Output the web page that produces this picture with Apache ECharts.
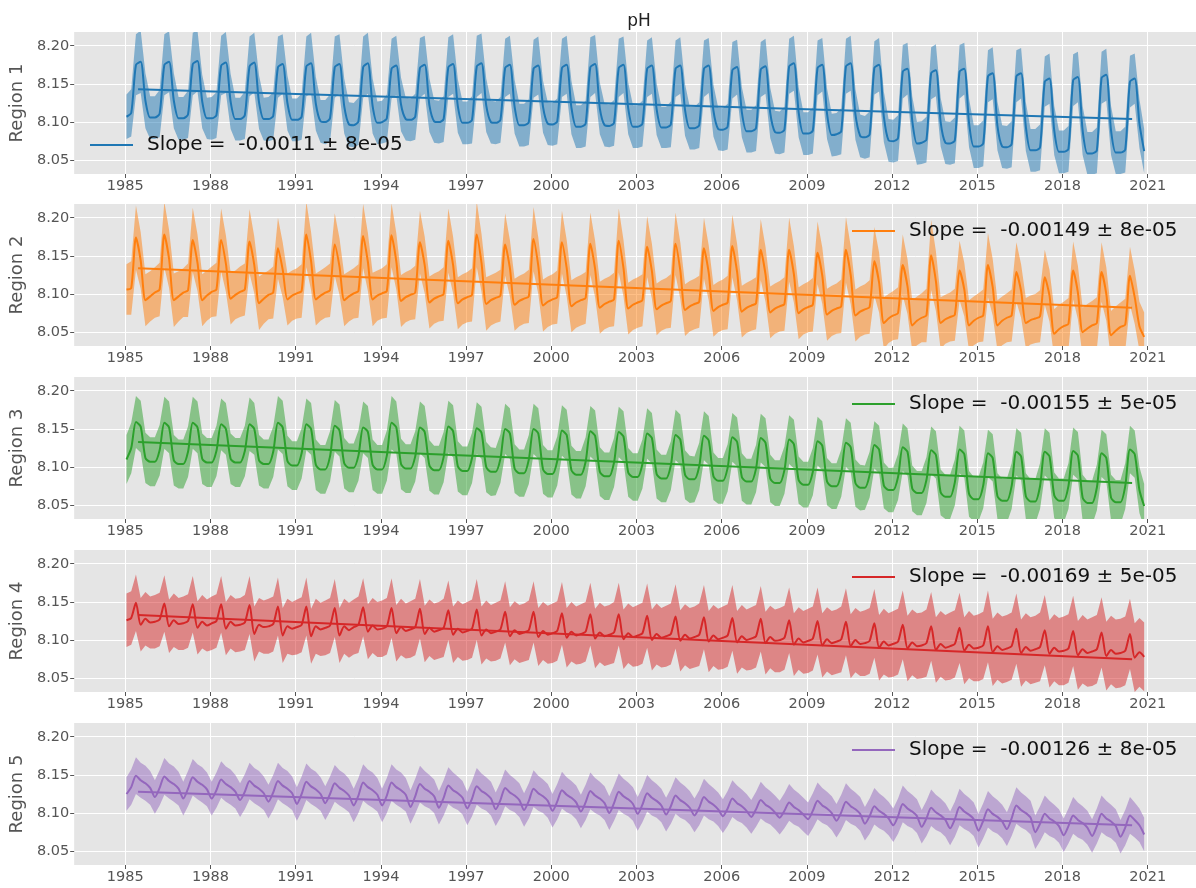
<!DOCTYPE html>
<html>
<head>
<meta charset="utf-8">
<title>pH</title>
<script src="https://cdn.jsdelivr.net/npm/echarts@6/dist/echarts.min.js"></script>
<style>
  html, body { margin: 0; padding: 0; background: #fff; }
  #chart { width: 1196px; height: 888px; }
</style>
</head>
<body>
<div id="chart"></div>
<script>
// sampling: every second month of each year
const years = [1985, 1986, 1987, 1988, 1989, 1990, 1991, 1992, 1993, 1994, 1995, 1996,
  1997, 1998, 1999, 2000, 2001, 2002, 2003, 2004, 2005, 2006, 2007, 2008,
  2009, 2010, 2011, 2012, 2013, 2014, 2015, 2016, 2017, 2018, 2019, 2020];
const sampleMonths = [0, 2, 4, 6, 8, 10];
const tickYears = [1985, 1988, 1991, 1994, 1997, 2000, 2003, 2006, 2009, 2012, 2015, 2018, 2021];
const yTicks = [8.05, 8.10, 8.15, 8.20];
const regionNames = ["Region 1", "Region 2", "Region 3", "Region 4", "Region 5"];
const slopeLabels = [
  "Slope =  -0.0011 ± 8e-05",
  "Slope =  -0.00149 ± 8e-05",
  "Slope =  -0.00155 ± 5e-05",
  "Slope =  -0.00169 ± 5e-05",
  "Slope =  -0.00126 ± 8e-05",
];
// linear fit end points
const trendX = [1985.45, 2020.45];
const trendStart = [8.143, 8.134, 8.133, 8.133, 8.128];
const trendEnd = [8.104, 8.082, 8.079, 8.075, 8.084];

// monthly-mean pH (Jan, Mar, May, Jul, Sep, Nov per row)
const r1Mean = [
  8.107,8.112,8.175,8.179,8.128,8.106, 8.106,8.111,8.175,8.179,8.128,8.105,
  8.105,8.110,8.176,8.180,8.127,8.105, 8.105,8.109,8.174,8.178,8.127,8.104,
  8.104,8.109,8.173,8.178,8.126,8.104, 8.104,8.108,8.172,8.176,8.125,8.103,
  8.103,8.107,8.173,8.177,8.124,8.101, 8.100,8.105,8.172,8.176,8.121,8.097,
  8.096,8.101,8.172,8.177,8.121,8.099, 8.100,8.105,8.170,8.174,8.123,8.104,
  8.103,8.107,8.171,8.175,8.122,8.101, 8.100,8.104,8.172,8.176,8.121,8.099,
  8.099,8.103,8.173,8.177,8.122,8.100, 8.099,8.103,8.171,8.175,8.120,8.096,
  8.096,8.100,8.170,8.174,8.120,8.098, 8.097,8.101,8.171,8.175,8.119,8.094,
  8.094,8.098,8.172,8.176,8.118,8.096, 8.095,8.099,8.171,8.175,8.118,8.094,
  8.094,8.098,8.170,8.174,8.117,8.093, 8.093,8.097,8.170,8.174,8.116,8.092,
  8.092,8.096,8.170,8.174,8.115,8.091, 8.090,8.094,8.168,8.172,8.113,8.088,
  8.088,8.092,8.169,8.173,8.112,8.087, 8.086,8.090,8.173,8.177,8.113,8.085,
  8.085,8.089,8.171,8.175,8.111,8.083, 8.084,8.088,8.173,8.177,8.110,8.082,
  8.080,8.084,8.171,8.175,8.107,8.076, 8.075,8.079,8.166,8.170,8.102,8.072,
  8.073,8.077,8.164,8.168,8.100,8.073, 8.072,8.076,8.166,8.170,8.099,8.068,
  8.068,8.072,8.160,8.164,8.095,8.068, 8.067,8.071,8.160,8.164,8.094,8.063,
  8.063,8.067,8.153,8.157,8.089,8.061, 8.061,8.065,8.155,8.159,8.089,8.059,
  8.059,8.063,8.158,8.162,8.089,8.060, 8.060,8.064,8.153,8.157,8.098,8.062,
];
const r1Sd = [
  0.029,0.031,0.040,0.041,0.036,0.028, 0.028,0.031,0.040,0.040,0.036,0.028,
  0.028,0.031,0.041,0.040,0.035,0.027, 0.028,0.030,0.039,0.040,0.036,0.028,
  0.028,0.031,0.039,0.039,0.035,0.028, 0.029,0.031,0.040,0.039,0.036,0.028,
  0.028,0.030,0.039,0.040,0.035,0.028, 0.029,0.031,0.040,0.039,0.036,0.029,
  0.029,0.031,0.040,0.040,0.036,0.028, 0.028,0.031,0.039,0.039,0.035,0.028,
  0.028,0.030,0.039,0.038,0.035,0.028, 0.028,0.030,0.039,0.039,0.035,0.028,
  0.028,0.031,0.040,0.039,0.035,0.028, 0.028,0.030,0.038,0.038,0.035,0.028,
  0.028,0.030,0.038,0.038,0.034,0.028, 0.028,0.030,0.038,0.038,0.035,0.028,
  0.028,0.030,0.039,0.038,0.034,0.028, 0.028,0.030,0.038,0.037,0.034,0.028,
  0.028,0.030,0.037,0.037,0.034,0.027, 0.027,0.030,0.037,0.037,0.034,0.028,
  0.028,0.030,0.037,0.036,0.034,0.028, 0.028,0.030,0.037,0.036,0.033,0.028,
  0.028,0.030,0.036,0.036,0.033,0.028, 0.028,0.030,0.036,0.036,0.033,0.028,
  0.028,0.030,0.036,0.035,0.033,0.028, 0.028,0.030,0.036,0.036,0.033,0.028,
  0.028,0.030,0.035,0.035,0.033,0.028, 0.028,0.030,0.035,0.034,0.032,0.028,
  0.028,0.030,0.034,0.034,0.032,0.028, 0.028,0.030,0.035,0.034,0.032,0.028,
  0.028,0.030,0.034,0.034,0.032,0.028, 0.028,0.030,0.034,0.033,0.032,0.028,
  0.028,0.030,0.033,0.033,0.032,0.028, 0.028,0.030,0.034,0.033,0.032,0.028,
  0.028,0.030,0.034,0.034,0.032,0.028, 0.028,0.030,0.034,0.033,0.032,0.029,
];
const r2Mean = [
  8.106,8.108,8.174,8.144,8.092,8.097, 8.102,8.106,8.178,8.146,8.092,8.097,
  8.102,8.105,8.171,8.141,8.092,8.098, 8.103,8.106,8.171,8.140,8.094,8.099,
  8.103,8.106,8.169,8.138,8.088,8.094, 8.099,8.102,8.160,8.132,8.093,8.098,
  8.101,8.104,8.178,8.143,8.093,8.098, 8.102,8.105,8.165,8.136,8.092,8.097,
  8.101,8.104,8.176,8.142,8.093,8.098, 8.101,8.104,8.177,8.143,8.091,8.096,
  8.099,8.102,8.168,8.138,8.089,8.094, 8.097,8.100,8.170,8.138,8.088,8.093,
  8.096,8.099,8.178,8.141,8.087,8.092, 8.095,8.098,8.165,8.134,8.086,8.091,
  8.094,8.097,8.172,8.137,8.085,8.090, 8.093,8.096,8.168,8.134,8.084,8.089,
  8.092,8.095,8.166,8.133,8.082,8.087, 8.090,8.093,8.170,8.134,8.081,8.086,
  8.089,8.092,8.162,8.130,8.080,8.085, 8.088,8.091,8.166,8.131,8.079,8.084,
  8.087,8.090,8.160,8.128,8.078,8.083, 8.086,8.089,8.163,8.129,8.077,8.082,
  8.085,8.088,8.158,8.126,8.076,8.081, 8.084,8.087,8.158,8.126,8.075,8.080,
  8.083,8.086,8.154,8.124,8.073,8.078, 8.081,8.084,8.158,8.125,8.072,8.077,
  8.080,8.083,8.143,8.115,8.062,8.068, 8.072,8.075,8.138,8.110,8.059,8.065,
  8.069,8.072,8.151,8.117,8.062,8.067, 8.070,8.073,8.131,8.106,8.059,8.065,
  8.069,8.072,8.138,8.109,8.059,8.065, 8.069,8.072,8.129,8.104,8.062,8.066,
  8.068,8.071,8.122,8.098,8.048,8.054, 8.058,8.061,8.131,8.102,8.050,8.055,
  8.059,8.062,8.129,8.100,8.046,8.052, 8.057,8.060,8.124,8.096,8.058,8.044,
];
const r2Sd = [
  0.033,0.035,0.042,0.037,0.034,0.033, 0.033,0.035,0.043,0.038,0.035,0.033,
  0.032,0.035,0.042,0.037,0.034,0.033, 0.033,0.035,0.041,0.037,0.034,0.032,
  0.033,0.034,0.042,0.037,0.035,0.033, 0.032,0.034,0.040,0.036,0.034,0.033,
  0.033,0.035,0.043,0.038,0.034,0.033, 0.033,0.035,0.041,0.037,0.034,0.033,
  0.033,0.035,0.042,0.038,0.035,0.033, 0.033,0.035,0.042,0.037,0.034,0.033,
  0.033,0.035,0.041,0.037,0.034,0.033, 0.033,0.035,0.042,0.037,0.034,0.033,
  0.033,0.035,0.043,0.038,0.035,0.033, 0.033,0.034,0.041,0.037,0.034,0.033,
  0.033,0.035,0.042,0.037,0.034,0.033, 0.033,0.035,0.041,0.037,0.034,0.033,
  0.033,0.034,0.041,0.037,0.034,0.033, 0.033,0.035,0.042,0.037,0.034,0.033,
  0.033,0.034,0.040,0.036,0.034,0.033, 0.033,0.035,0.041,0.037,0.034,0.033,
  0.033,0.034,0.040,0.036,0.034,0.033, 0.033,0.035,0.041,0.037,0.034,0.033,
  0.033,0.034,0.040,0.036,0.034,0.033, 0.033,0.035,0.042,0.037,0.034,0.033,
  0.033,0.035,0.041,0.037,0.034,0.033, 0.033,0.035,0.043,0.038,0.034,0.033,
  0.033,0.035,0.045,0.039,0.034,0.032, 0.032,0.034,0.040,0.036,0.033,0.032,
  0.032,0.035,0.046,0.039,0.034,0.032, 0.032,0.034,0.039,0.035,0.033,0.032,
  0.032,0.034,0.042,0.037,0.033,0.032, 0.032,0.034,0.039,0.035,0.033,0.032,
  0.032,0.034,0.036,0.034,0.032,0.032, 0.032,0.034,0.038,0.035,0.032,0.032,
  0.032,0.034,0.039,0.035,0.032,0.032, 0.032,0.034,0.038,0.035,0.032,0.032,
];
const r3Mean = [
  8.110,8.125,8.159,8.153,8.112,8.107, 8.107,8.122,8.158,8.152,8.109,8.104,
  8.104,8.120,8.158,8.152,8.111,8.106, 8.106,8.121,8.156,8.150,8.111,8.106,
  8.106,8.121,8.156,8.150,8.109,8.104, 8.104,8.120,8.158,8.152,8.108,8.102,
  8.102,8.118,8.156,8.150,8.103,8.097, 8.097,8.114,8.154,8.148,8.105,8.099,
  8.099,8.115,8.152,8.146,8.103,8.097, 8.097,8.115,8.158,8.152,8.104,8.098,
  8.098,8.114,8.152,8.146,8.102,8.096, 8.096,8.113,8.153,8.147,8.101,8.095,
  8.095,8.112,8.151,8.145,8.100,8.094, 8.094,8.111,8.150,8.144,8.098,8.092,
  8.092,8.110,8.150,8.144,8.097,8.091, 8.091,8.108,8.148,8.142,8.096,8.090,
  8.090,8.107,8.147,8.141,8.094,8.088, 8.088,8.106,8.146,8.140,8.093,8.087,
  8.087,8.104,8.144,8.138,8.091,8.085, 8.085,8.102,8.142,8.136,8.090,8.084,
  8.084,8.101,8.141,8.135,8.088,8.082, 8.082,8.099,8.139,8.133,8.087,8.081,
  8.081,8.098,8.138,8.132,8.085,8.079, 8.079,8.096,8.136,8.130,8.083,8.077,
  8.077,8.094,8.134,8.128,8.081,8.075, 8.075,8.092,8.132,8.126,8.079,8.073,
  8.073,8.090,8.129,8.123,8.076,8.070, 8.070,8.087,8.126,8.120,8.072,8.066,
  8.066,8.083,8.122,8.116,8.067,8.061, 8.061,8.080,8.123,8.117,8.065,8.058,
  8.058,8.076,8.118,8.112,8.062,8.056, 8.056,8.075,8.120,8.114,8.062,8.055,
  8.055,8.075,8.120,8.114,8.063,8.056, 8.056,8.075,8.121,8.115,8.060,8.053,
  8.053,8.073,8.118,8.112,8.060,8.054, 8.054,8.075,8.123,8.117,8.070,8.049,
];
const r3Sd = [
  0.032,0.033,0.034,0.034,0.033,0.032, 0.032,0.033,0.034,0.034,0.033,0.032,
  0.032,0.033,0.034,0.034,0.033,0.032, 0.032,0.033,0.034,0.034,0.033,0.032,
  0.032,0.033,0.035,0.034,0.033,0.032, 0.032,0.033,0.035,0.035,0.033,0.032,
  0.032,0.033,0.034,0.034,0.033,0.032, 0.032,0.033,0.034,0.034,0.033,0.032,
  0.032,0.033,0.034,0.034,0.033,0.032, 0.032,0.033,0.035,0.034,0.033,0.032,
  0.032,0.033,0.034,0.034,0.033,0.032, 0.032,0.033,0.034,0.034,0.033,0.032,
  0.032,0.033,0.034,0.034,0.033,0.032, 0.031,0.032,0.033,0.033,0.032,0.031,
  0.031,0.032,0.033,0.033,0.032,0.031, 0.031,0.032,0.033,0.033,0.032,0.031,
  0.031,0.032,0.033,0.033,0.032,0.031, 0.031,0.032,0.033,0.033,0.032,0.031,
  0.031,0.032,0.033,0.033,0.032,0.031, 0.031,0.032,0.033,0.033,0.032,0.031,
  0.030,0.031,0.032,0.032,0.031,0.030, 0.030,0.031,0.032,0.032,0.031,0.030,
  0.030,0.031,0.032,0.032,0.031,0.030, 0.030,0.031,0.032,0.032,0.031,0.030,
  0.030,0.031,0.032,0.032,0.031,0.030, 0.030,0.031,0.032,0.032,0.031,0.030,
  0.029,0.030,0.031,0.031,0.030,0.029, 0.029,0.030,0.031,0.031,0.030,0.029,
  0.029,0.030,0.031,0.031,0.030,0.029, 0.029,0.030,0.031,0.031,0.030,0.029,
  0.029,0.030,0.031,0.031,0.030,0.029, 0.029,0.030,0.031,0.031,0.030,0.029,
  0.029,0.030,0.031,0.031,0.030,0.029, 0.029,0.030,0.031,0.031,0.030,0.029,
  0.029,0.030,0.031,0.031,0.030,0.029, 0.029,0.030,0.031,0.031,0.030,0.029,
];
const r4Mean = [
  8.126,8.129,8.149,8.120,8.128,8.123, 8.124,8.127,8.148,8.118,8.126,8.121,
  8.122,8.125,8.147,8.116,8.124,8.119, 8.122,8.125,8.147,8.115,8.124,8.119,
  8.120,8.123,8.146,8.108,8.120,8.117, 8.118,8.121,8.144,8.106,8.118,8.115,
  8.117,8.120,8.144,8.105,8.118,8.114, 8.116,8.119,8.142,8.106,8.118,8.113,
  8.117,8.120,8.143,8.111,8.119,8.114, 8.115,8.118,8.142,8.109,8.117,8.112,
  8.114,8.117,8.141,8.108,8.116,8.111, 8.113,8.116,8.139,8.107,8.115,8.110,
  8.112,8.115,8.140,8.106,8.114,8.109, 8.111,8.114,8.137,8.105,8.113,8.108,
  8.110,8.113,8.137,8.104,8.112,8.107, 8.109,8.112,8.135,8.103,8.111,8.106,
  8.108,8.111,8.134,8.102,8.110,8.105, 8.107,8.110,8.134,8.101,8.109,8.104,
  8.106,8.109,8.132,8.100,8.108,8.103, 8.105,8.108,8.131,8.099,8.107,8.102,
  8.104,8.107,8.130,8.098,8.106,8.101, 8.103,8.106,8.129,8.097,8.105,8.100,
  8.102,8.105,8.128,8.096,8.104,8.099, 8.100,8.103,8.126,8.094,8.102,8.097,
  8.099,8.102,8.125,8.093,8.101,8.096, 8.098,8.101,8.124,8.092,8.100,8.095,
  8.096,8.099,8.122,8.090,8.098,8.093, 8.095,8.098,8.120,8.089,8.097,8.092,
  8.093,8.096,8.118,8.087,8.095,8.090, 8.092,8.095,8.116,8.086,8.094,8.089,
  8.090,8.093,8.118,8.084,8.092,8.087, 8.089,8.092,8.115,8.083,8.091,8.086,
  8.088,8.091,8.113,8.082,8.090,8.085, 8.086,8.089,8.112,8.080,8.088,8.083,
  8.085,8.088,8.110,8.079,8.087,8.082, 8.083,8.086,8.108,8.077,8.084,8.078,
];
const r4Sd = [
  0.035,0.035,0.037,0.035,0.035,0.034, 0.035,0.035,0.037,0.035,0.035,0.034,
  0.035,0.035,0.037,0.035,0.035,0.034, 0.035,0.035,0.037,0.035,0.035,0.035,
  0.035,0.036,0.038,0.036,0.035,0.035, 0.036,0.036,0.038,0.036,0.036,0.035,
  0.036,0.036,0.038,0.036,0.036,0.035, 0.036,0.036,0.038,0.036,0.036,0.036,
  0.036,0.037,0.038,0.036,0.036,0.036, 0.037,0.037,0.039,0.037,0.037,0.036,
  0.037,0.037,0.039,0.037,0.037,0.037, 0.037,0.038,0.039,0.037,0.037,0.037,
  0.038,0.038,0.040,0.038,0.038,0.037, 0.038,0.038,0.040,0.038,0.038,0.038,
  0.038,0.039,0.040,0.038,0.038,0.038, 0.039,0.039,0.041,0.039,0.039,0.038,
  0.039,0.039,0.041,0.039,0.039,0.039, 0.039,0.040,0.041,0.039,0.039,0.039,
  0.040,0.040,0.042,0.040,0.040,0.039, 0.040,0.040,0.042,0.040,0.040,0.040,
  0.040,0.041,0.042,0.040,0.040,0.040, 0.041,0.041,0.043,0.041,0.041,0.040,
  0.041,0.041,0.043,0.041,0.041,0.041, 0.042,0.042,0.043,0.041,0.041,0.041,
  0.042,0.042,0.044,0.042,0.042,0.042, 0.042,0.043,0.044,0.042,0.042,0.042,
  0.043,0.043,0.045,0.043,0.043,0.042, 0.043,0.043,0.045,0.043,0.043,0.043,
  0.043,0.044,0.045,0.043,0.043,0.043, 0.044,0.044,0.046,0.044,0.044,0.043,
  0.044,0.044,0.047,0.044,0.044,0.044, 0.044,0.044,0.046,0.044,0.044,0.044,
  0.044,0.045,0.046,0.044,0.044,0.044, 0.045,0.045,0.046,0.045,0.045,0.044,
  0.045,0.045,0.046,0.045,0.045,0.045, 0.045,0.045,0.046,0.045,0.045,0.045,
];
const r5Mean = [
  8.125,8.134,8.149,8.143,8.139,8.133, 8.121,8.133,8.148,8.142,8.138,8.132,
  8.119,8.132,8.147,8.141,8.137,8.131, 8.119,8.130,8.144,8.138,8.134,8.128,
  8.117,8.128,8.142,8.136,8.132,8.126, 8.115,8.127,8.142,8.136,8.132,8.126,
  8.112,8.125,8.141,8.135,8.131,8.125, 8.113,8.125,8.139,8.133,8.129,8.123,
  8.110,8.123,8.140,8.134,8.130,8.124, 8.110,8.123,8.140,8.134,8.130,8.124,
  8.108,8.122,8.138,8.132,8.128,8.122, 8.107,8.120,8.136,8.130,8.126,8.120,
  8.106,8.119,8.135,8.129,8.125,8.119, 8.105,8.117,8.133,8.127,8.123,8.117,
  8.104,8.116,8.132,8.126,8.122,8.116, 8.103,8.115,8.130,8.124,8.120,8.114,
  8.102,8.114,8.129,8.123,8.119,8.113, 8.100,8.113,8.128,8.122,8.118,8.112,
  8.099,8.111,8.126,8.120,8.116,8.110, 8.098,8.109,8.123,8.117,8.113,8.107,
  8.097,8.107,8.121,8.115,8.111,8.105, 8.096,8.106,8.119,8.113,8.109,8.103,
  8.095,8.105,8.117,8.111,8.107,8.101, 8.094,8.103,8.114,8.108,8.104,8.098,
  8.092,8.103,8.116,8.110,8.106,8.100, 8.090,8.101,8.115,8.109,8.105,8.099,
  8.086,8.096,8.109,8.103,8.099,8.093, 8.084,8.096,8.112,8.106,8.102,8.096,
  8.082,8.093,8.107,8.101,8.097,8.091, 8.080,8.092,8.108,8.102,8.098,8.092,
  8.077,8.090,8.105,8.099,8.095,8.089, 8.079,8.093,8.110,8.104,8.100,8.094,
  8.075,8.086,8.099,8.093,8.089,8.083, 8.071,8.083,8.097,8.091,8.087,8.081,
  8.070,8.083,8.099,8.093,8.089,8.083, 8.069,8.081,8.097,8.091,8.084,8.072,
];
const r5Sd = [
  0.022,0.023,0.024,0.023,0.023,0.022, 0.022,0.023,0.024,0.023,0.023,0.022,
  0.022,0.023,0.024,0.023,0.023,0.022, 0.022,0.023,0.024,0.023,0.023,0.022,
  0.022,0.023,0.024,0.023,0.023,0.022, 0.022,0.023,0.024,0.023,0.023,0.022,
  0.022,0.023,0.024,0.023,0.023,0.022, 0.022,0.023,0.024,0.023,0.023,0.022,
  0.022,0.023,0.024,0.023,0.023,0.022, 0.022,0.023,0.024,0.023,0.023,0.022,
  0.022,0.023,0.024,0.023,0.022,0.022, 0.022,0.023,0.024,0.023,0.022,0.022,
  0.022,0.023,0.024,0.023,0.022,0.022, 0.022,0.023,0.024,0.023,0.022,0.022,
  0.022,0.023,0.024,0.023,0.022,0.022, 0.022,0.023,0.024,0.023,0.022,0.022,
  0.022,0.023,0.024,0.023,0.022,0.022, 0.022,0.023,0.024,0.023,0.022,0.022,
  0.022,0.023,0.024,0.023,0.022,0.022, 0.022,0.023,0.024,0.023,0.022,0.022,
  0.022,0.023,0.024,0.023,0.022,0.022, 0.022,0.023,0.024,0.023,0.022,0.022,
  0.022,0.023,0.024,0.023,0.022,0.022, 0.022,0.023,0.024,0.023,0.022,0.022,
  0.022,0.023,0.024,0.023,0.022,0.022, 0.022,0.023,0.024,0.023,0.022,0.022,
  0.022,0.023,0.024,0.023,0.022,0.022, 0.022,0.023,0.024,0.023,0.022,0.022,
  0.022,0.023,0.024,0.023,0.022,0.022, 0.022,0.023,0.024,0.023,0.022,0.022,
  0.022,0.023,0.024,0.023,0.022,0.022, 0.022,0.023,0.024,0.023,0.022,0.022,
  0.022,0.023,0.024,0.023,0.022,0.022, 0.022,0.023,0.024,0.023,0.022,0.022,
  0.022,0.023,0.024,0.023,0.022,0.022, 0.022,0.023,0.024,0.023,0.022,0.022,
];

const means = [r1Mean, r2Mean, r3Mean, r4Mean, r5Mean];
const sds = [r1Sd, r2Sd, r3Sd, r4Sd, r5Sd];
const colors = ["#1f77b4", "#ff7f0e", "#2ca02c", "#d62728", "#9467bd"];
const bandColors = [
  "rgba(31,119,180,0.5)", "rgba(255,127,14,0.5)", "rgba(44,160,44,0.5)",
  "rgba(214,39,40,0.5)", "rgba(148,103,189,0.5)",
];
const panelTop = [32, 204, 377, 550, 723];
const panelHeight = 142;
const legendLeft = [90, 852, 852, 852, 852];
const legendTop = [135, 221, 394, 567, 740];

// decimal year of every sample (middle of the month)
const times = [];
years.forEach((y) => sampleMonths.forEach((m) => times.push(y + (m + 0.5) / 12)));

function bandItem(i) {
  const m = means[i], s = sds[i];
  return function (params, api) {
    const upper = [], lower = [];
    for (let k = 0; k < times.length; k++) {
      upper.push(api.coord([times[k], m[k] + s[k]]));
      lower.push(api.coord([times[k], m[k] - s[k]]));
    }
    const cs = params.coordSys;
    return {
      type: "polygon",
      shape: { points: upper.concat(lower.reverse()) },
      style: { fill: bandColors[i] },
      clipPath: { type: "rect", shape: { x: cs.x, y: cs.y, width: cs.width, height: cs.height } },
    };
  };
}

let grid = [], xAxis = [], yAxis = [], series = [], legend = [];
for (let i = 0; i < 5; i++) {
  grid.push({
    left: 73, right: 0, top: panelTop[i], height: panelHeight,
    show: true, backgroundColor: "#e5e5e5", borderWidth: 0,
  });
  xAxis.push({
    type: "value", gridIndex: i, min: 1983.2, max: 2022.7,
    axisLine: { show: false },
    axisTick: { show: true, length: 4, customValues: tickYears, lineStyle: { color: "#555" } },
    axisLabel: {
      customValues: tickYears, color: "#555", fontSize: 14.5, margin: 5,
      formatter: (v) => String(v),
    },
    splitLine: { show: true, lineStyle: { color: "#fff", width: 1 } },
  });
  yAxis.push({
    type: "value", gridIndex: i, min: 8.032, max: 8.218,
    name: regionNames[i], nameLocation: "middle", nameRotate: 90, nameGap: 44,
    nameTextStyle: { fontSize: 18, color: "#555" },
    axisLine: { show: false },
    axisTick: { show: true, length: 4, customValues: yTicks, lineStyle: { color: "#555" } },
    axisLabel: {
      customValues: yTicks, color: "#555", fontSize: 14.5, margin: 5,
      formatter: (v) => v.toFixed(2),
    },
    splitLine: { show: true, lineStyle: { color: "#fff", width: 1 } },
  });
  series.push({
    type: "custom", xAxisIndex: i, yAxisIndex: i, silent: true,
    renderItem: bandItem(i),
    data: [[times[0], means[i][0]]],
  });
  series.push({
    type: "line", xAxisIndex: i, yAxisIndex: i, symbol: "none", smooth: 0.25,
    lineStyle: { color: colors[i], width: 2 },
    data: times.map((t, k) => [t, means[i][k]]),
  });
  series.push({
    type: "line", name: slopeLabels[i], xAxisIndex: i, yAxisIndex: i, symbol: "none",
    lineStyle: { color: colors[i], width: 2 }, itemStyle: { color: colors[i] },
    data: [[trendX[0], trendStart[i]], [trendX[1], trendEnd[i]]],
  });
  legend.push({
    data: [slopeLabels[i]], left: legendLeft[i], top: legendTop[i], padding: 0,
    icon: "rect", itemWidth: 43, itemHeight: 2, selectedMode: false,
    textStyle: { fontSize: 20, color: "#111", padding: [0, 0, 0, 9] },
  });
}

const chart = echarts.init(document.getElementById("chart"));
chart.setOption({
  animation: false,
  backgroundColor: "#fff",
  textStyle: { fontFamily: "DejaVu Sans" },
  title: {
    text: "pH", left: 634, top: 8, textAlign: "center",
    textStyle: { fontSize: 17, fontWeight: "normal", color: "#222", fontFamily: "DejaVu Sans" },
  },
  grid: grid,
  xAxis: xAxis,
  yAxis: yAxis,
  legend: legend,
  series: series,
});
window.addEventListener("resize", () => chart.resize());
</script>
</body>
</html>
